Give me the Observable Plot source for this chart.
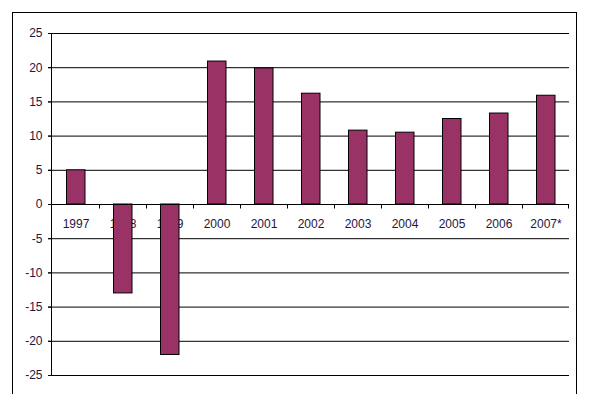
<!DOCTYPE html>
<html>
<head>
<meta charset="utf-8">
<script src="https://cdn.jsdelivr.net/npm/d3@7"></script>
<script src="https://cdn.jsdelivr.net/npm/@observablehq/plot@0.6"></script>
<style>
  html, body { margin: 0; padding: 0; background: #fff; overflow: hidden; }
  #wrap { position: relative; width: 593px; height: 394px; }
  #border { position: absolute; left: 12px; top: 12px; width: 565px; height: 420px; border: 1px solid #000; box-sizing: border-box; }
  #chart { position: absolute; left: 0; top: 0; }
</style>
</head>
<body>
<div id="wrap"><div id="border"></div><div id="chart"></div></div>
<script>
const years = ["1997", "1998", "1999", "2000", "2001", "2002", "2003", "2004", "2005", "2006", "2007*"];
const values = [5, -13, -22, 20.9, 19.9, 16.2, 10.8, 10.5, 12.5, 13.3, 15.9];
const yTicks = [-25, -20, -15, -10, -5, 0, 5, 10, 15, 20, 25];

const data = years.map((year, i) => ({year, value: values[i]}));
const textColor = "#231542";

// x-axis line at zero with tick marks at category boundaries, plus y-axis line
function axisLines(index, scales, values, dims) {
  const g = d3.create("svg:g").attr("stroke", "#000").attr("stroke-width", 1).attr("fill", "none");
  const y0 = Math.round(scales.y(0)) + 0.5;
  const left = dims.marginLeft;
  const right = dims.width - dims.marginRight;
  g.append("line").attr("x1", left).attr("x2", right).attr("y1", y0).attr("y2", y0);
  const xs = years.slice(1).map(d => Math.round(scales.x(d)) + 0.5).concat([right - 0.5]);
  for (const x of xs) g.append("line").attr("x1", x).attr("x2", x).attr("y1", y0).attr("y2", y0 + 4);
  const xl = left + 0.5;
  g.append("line").attr("x1", xl).attr("x2", xl).attr("y1", dims.marginTop).attr("y2", dims.height - dims.marginBottom);
  return g.node();
}

const chart = Plot.plot({
  width: 593,
  height: 394,
  marginLeft: 51,
  marginRight: 24,
  marginTop: 33,
  marginBottom: 19,
  style: {fontFamily: "Arial, 'Liberation Sans', sans-serif", fontSize: "12px", background: "transparent", color: "#000"},
  x: {type: "band", domain: years, padding: 0, axis: null},
  y: {domain: [-25, 25], axis: null},
  marks: [
    Plot.ruleY(yTicks.filter(d => d !== 0), {y: d => d, stroke: "#000", strokeWidth: 1, insetLeft: -3}),
    Plot.axisY({ticks: yTicks, tickSize: 3, tickPadding: 6, tickFormat: d => String(d), stroke: "#000", color: textColor, fontSize: 12, label: null}),
    Plot.text(data, {x: "year", y: 0, text: "year", dy: 19.5, fill: textColor, fontSize: 12, textAnchor: "middle", lineAnchor: "middle"}),
    Plot.barY(data, {x: "year", y: "value", fill: "#993366", stroke: "#000", strokeWidth: 1, insetLeft: 14.5, insetRight: 14}),
    axisLines
  ]
});
document.getElementById("chart").appendChild(chart);
</script>
</body>
</html>
